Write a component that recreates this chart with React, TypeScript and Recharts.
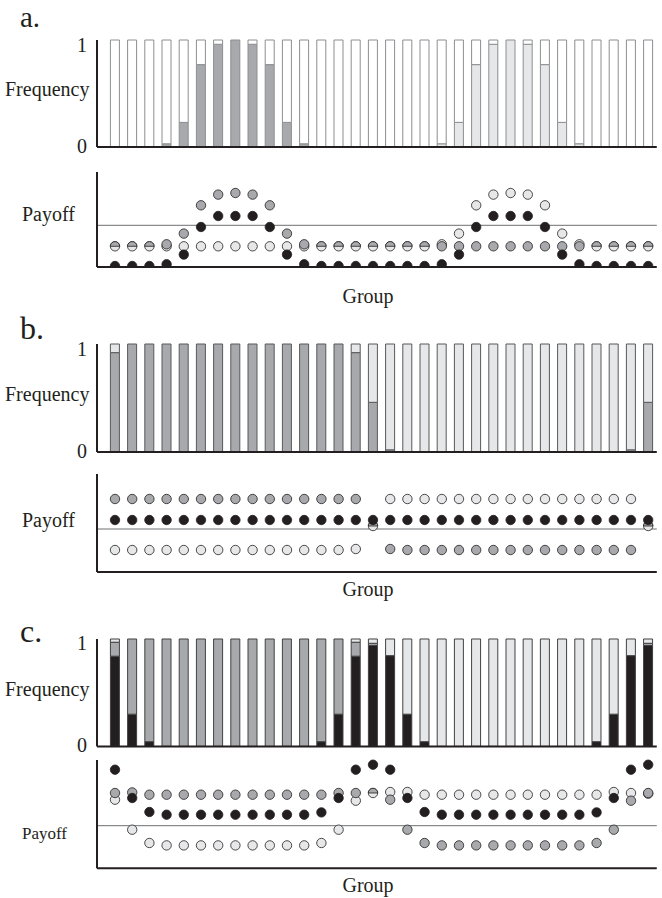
import React from "react";
import { BarChart, Bar, XAxis, YAxis, ScatterChart, Scatter, ReferenceLine } from "recharts";

const SERIF = '"Liberation Serif", "Times New Roman", Times, serif';
const INK = "#231f20";
const GRAY = "#a7a9ac";
const LIGHT = "#e6e7e8";
const WHITE = "#ffffff";
const RULE = "#6d6e71";

const W = 662;
const PLOT_LEFT = 97;
const PLOT_RIGHT = 656.8;
const PAD_LEFT = 9.4;
const DOT_R = 4.7;

const groups = [
  1, 2, 3, 4, 5, 6, 7, 8, 9, 10, 11, 12, 13, 14, 15, 16,
  17, 18, 19, 20, 21, 22, 23, 24, 25, 26, 27, 28, 29, 30, 31, 32,
];

// ---- panel a ----
const aBlack = [0, 0, 0, 0, 0, 0, 0, 0, 0, 0, 0, 0, 0, 0, 0, 0, 0, 0, 0, 0, 0, 0, 0, 0, 0, 0, 0, 0, 0, 0, 0, 0];
const aGray = [0, 0, 0, 0.03, 0.23, 0.77, 0.96, 1, 0.96, 0.77, 0.23, 0.03, 0, 0, 0, 0, 0, 0, 0, 0, 0, 0, 0, 0, 0, 0, 0, 0, 0, 0, 0, 0];
const aLight = [0, 0, 0, 0, 0, 0, 0, 0, 0, 0, 0, 0, 0, 0, 0, 0, 0, 0, 0, 0.03, 0.23, 0.77, 0.96, 1, 0.96, 0.77, 0.23, 0.03, 0, 0, 0, 0];

const aPayGray = [-2.1, -2.1, -2.1, -1.9, -0.83, 2.0, 3.07, 3.23, 3.07, 2.0, -0.83, -1.9, -2.1, -2.1, -2.1, -2.1,
  -2.1, -2.1, -2.1, -2.1, -2.1, -2.1, -2.1, -2.1, -2.1, -2.1, -2.1, -2.1, -2.1, -2.1, -2.1, -2.1];
const aPayLight = [-2.1, -2.1, -2.1, -2.1, -2.1, -2.1, -2.1, -2.1, -2.1, -2.1, -2.1, -2.1, -2.1, -2.1, -2.1, -2.1,
  -2.1, -2.1, -2.1, -1.9, -0.83, 2.0, 3.07, 3.23, 3.07, 2.0, -0.83, -1.9, -2.1, -2.1, -2.1, -2.1];
const aPayBlack = [-4.07, -4.07, -4.07, -3.9, -2.93, -0.17, 0.93, 0.93, 0.93, -0.17, -2.93, -3.9, -4.07, -4.07, -4.07, -4.07,
  -4.07, -4.07, -4.07, -3.9, -2.93, -0.17, 0.93, 0.93, 0.93, -0.17, -2.93, -3.9, -4.07, -4.07, -4.07, -4.07];

// ---- panel b ----
const bBlack = [0, 0, 0, 0, 0, 0, 0, 0, 0, 0, 0, 0, 0, 0, 0, 0, 0, 0, 0, 0, 0, 0, 0, 0, 0, 0, 0, 0, 0, 0, 0, 0];
const bGray = [0.92, 1, 1, 1, 1, 1, 1, 1, 1, 1, 1, 1, 1, 1, 0.92, 0.46, 0.02, 0, 0, 0, 0, 0, 0, 0, 0, 0, 0, 0, 0, 0, 0.02, 0.46];
const bLight = [0.08, 0, 0, 0, 0, 0, 0, 0, 0, 0, 0, 0, 0, 0, 0.08, 0.54, 0.98, 1, 1, 1, 1, 1, 1, 1, 1, 1, 1, 1, 1, 1, 0.98, 0.54];

const bPayGray = [3, 3, 3, 3, 3, 3, 3, 3, 3, 3, 3, 3, 3, 3, 3, 0.3,
  -2.0, -2.1, -2.1, -2.1, -2.1, -2.1, -2.1, -2.1, -2.1, -2.1, -2.1, -2.1, -2.1, -2.1, -2.1, 0.3];
const bPayLight = [-2.1, -2.1, -2.1, -2.1, -2.1, -2.1, -2.1, -2.1, -2.1, -2.1, -2.1, -2.1, -2.1, -2.1, -2.0, 0.3,
  3, 3, 3, 3, 3, 3, 3, 3, 3, 3, 3, 3, 3, 3, 3, 0.3];
const bPayBlack = [0.9, 0.9, 0.9, 0.9, 0.9, 0.9, 0.9, 0.9, 0.9, 0.9, 0.9, 0.9, 0.9, 0.9, 0.9, 0.9,
  0.9, 0.9, 0.9, 0.9, 0.9, 0.9, 0.9, 0.9, 0.9, 0.9, 0.9, 0.9, 0.9, 0.9, 0.9, 0.9];

// ---- panel c ----
const cBlack = [0.84, 0.3, 0.044, 0, 0, 0, 0, 0, 0, 0, 0, 0, 0.044, 0.3, 0.84, 0.94,
  0.845, 0.3, 0.044, 0, 0, 0, 0, 0, 0, 0, 0, 0, 0.044, 0.3, 0.845, 0.94];
const cGray = [0.13, 0.7, 0.956, 1, 1, 1, 1, 1, 1, 1, 1, 1, 0.956, 0.7, 0.13, 0.02,
  0, 0, 0, 0, 0, 0, 0, 0, 0, 0, 0, 0, 0, 0, 0, 0.02];
const cLight = [0.03, 0, 0, 0, 0, 0, 0, 0, 0, 0, 0, 0, 0, 0, 0.03, 0.04,
  0.155, 0.7, 0.956, 1, 1, 1, 1, 1, 1, 1, 1, 1, 0.956, 0.7, 0.155, 0.04];

const cPayBlack = [5.6, 2.77, 1.37, 1.1, 1.1, 1.1, 1.1, 1.1, 1.1, 1.1, 1.1, 1.1, 1.33, 2.77, 5.6, 6.1,
  5.6, 2.77, 1.37, 1.1, 1.1, 1.1, 1.1, 1.1, 1.1, 1.1, 1.1, 1.1, 1.33, 2.77, 5.6, 6.1];
const cPayGray = [3.27, 3.33, 3.1, 3.1, 3.1, 3.1, 3.1, 3.1, 3.1, 3.1, 3.1, 3.1, 3.1, 3.27, 3.27, 3.27,
  2.6, -0.4, -1.73, -1.97, -1.97, -1.97, -1.97, -1.97, -1.97, -1.97, -1.97, -1.97, -1.73, -0.4, 2.5, 3.27];
const cPayLight = [2.6, -0.4, -1.73, -1.97, -1.97, -1.97, -1.97, -1.97, -1.97, -1.97, -1.97, -1.97, -1.73, -0.4, 2.5, 3.27,
  3.37, 3.37, 3.1, 3.1, 3.1, 3.1, 3.1, 3.1, 3.1, 3.1, 3.1, 3.1, 3.1, 3.37, 3.27, 3.2];

const FILL: Record<string, string> = { black: INK, gray: GRAY, light: LIGHT, white: WHITE };

function stackRows(black: number[], gray: number[], light: number[]) {
  return groups.map((g, i) => ({
    g,
    black: black[i],
    gray: gray[i],
    light: light[i],
    white: Math.max(0, 1 - black[i] - gray[i] - light[i]),
  }));
}

function FreqTick(props: any) {
  const { x, y, payload } = props;
  const dy = payload.value === 1 ? 11.5 : 5.5;
  return (
    <text x={x} y={y + dy} textAnchor="end" fontFamily={SERIF} fontSize={20} fill={INK}>
      {payload.value}
    </text>
  );
}

function FrequencyPanel({ top, bottom, black, gray, light, edge }: any) {
  const data = stackRows(black, gray, light);
  const h = bottom - top + 20;
  return (
    <div style={{ position: "absolute", left: 0, top: top - 10, width: W, height: h }}>
      <BarChart
        width={W}
        height={h}
        data={data}
        barSize={9}
        margin={{ top: 10, right: W - PLOT_RIGHT, bottom: 0, left: 0 }}
      >
        <XAxis
          dataKey="g"
          height={10}
          tick={false}
          tickLine={false}
          axisLine={{ stroke: INK, strokeWidth: 2 }}
          padding={{ left: PAD_LEFT, right: 0 }}
        />
        <YAxis
          width={PLOT_LEFT}
          domain={[0, 1]}
          ticks={[0, 1]}
          tickLine={false}
          tickMargin={4}
          axisLine={{ stroke: INK, strokeWidth: 2 }}
          tick={FreqTick}
        />
        {["black", "gray", "light", "white"].map((k) => (
          <Bar
            key={k}
            dataKey={k}
            stackId="f"
            fill={FILL[k]}
            stroke={edge}
            strokeWidth={1}
            isAnimationActive={false}
          />
        ))}
      </BarChart>
    </div>
  );
}

function makeDot(fill: string) {
  return (props: any) => {
    const { cx, cy, payload } = props;
    if (cx == null || cy == null) return <g />;
    // gray and light on the same payoff: draw the gray as the upper half
    if (payload.mate != null && Math.abs(payload.mate - payload.v) < 0.05) {
      return (
        <path
          d={`M${cx - DOT_R},${cy} A${DOT_R},${DOT_R} 0 0 1 ${cx + DOT_R},${cy} Z`}
          fill={fill}
          stroke={INK}
          strokeWidth={0.8}
        />
      );
    }
    return <circle cx={cx} cy={cy} r={DOT_R} fill={fill} stroke={INK} strokeWidth={0.8} />;
  };
}

function PayoffPanel({ top, bottom, domain, black, gray, light, clip }: any) {
  const h = bottom - top + 20;
  const lightData = groups.map((g, i) => ({ g, v: light[i] }));
  const grayData = groups.map((g, i) => ({ g, v: gray[i], mate: light[i] }));
  const blackData = groups.map((g, i) => ({ g, v: black[i] }));
  return (
    <div style={{ position: "absolute", left: 0, top: top - 10, width: W, height: h }}>
      <ScatterChart width={W} height={h} margin={{ top: 10, right: W - PLOT_RIGHT, bottom: 0, left: 0 }}>
        <XAxis
          type="number"
          dataKey="g"
          domain={[0.5, 32.5]}
          height={10}
          tick={false}
          tickLine={false}
          axisLine={{ stroke: INK, strokeWidth: 2 }}
          padding={{ left: PAD_LEFT, right: 0 }}
        />
        <YAxis
          type="number"
          dataKey="v"
          domain={domain}
          allowDataOverflow={clip}
          width={PLOT_LEFT}
          tick={false}
          tickLine={false}
          axisLine={{ stroke: INK, strokeWidth: 2 }}
        />
        <ReferenceLine y={0} stroke={RULE} strokeWidth={1} />
        <Scatter data={lightData} fill={LIGHT} shape={makeDot(LIGHT)} isAnimationActive={false} />
        <Scatter data={grayData} fill={GRAY} shape={makeDot(GRAY)} isAnimationActive={false} />
        <Scatter data={blackData} fill={INK} shape={makeDot(INK)} isAnimationActive={false} />
      </ScatterChart>
    </div>
  );
}

const textStyle = { fontFamily: SERIF, fill: INK };

export default function App() {
  return (
    <div style={{ position: "absolute", left: 0, top: 0, width: W, height: 898, background: "#fff" }}>
      <FrequencyPanel top={40} bottom={147} black={aBlack} gray={aGray} light={aLight} edge="#8d8e91" />
      <PayoffPanel top={171.7} bottom={266.7} domain={[-4.17, 5.33]} black={aPayBlack} gray={aPayGray} light={aPayLight} clip />

      <FrequencyPanel top={344} bottom={452} black={bBlack} gray={bGray} light={bLight} edge="#58595b" />
      <PayoffPanel top={474} bottom={572} domain={[-4.3, 5.5]} black={bPayBlack} gray={bPayGray} light={bPayLight} clip={false} />

      <FrequencyPanel top={639.3} bottom={746.7} black={cBlack} gray={cGray} light={cLight} edge="#414042" />
      <PayoffPanel top={760} bottom={868.3} domain={[-4.26, 6.57]} black={cPayBlack} gray={cPayGray} light={cPayLight} clip={false} />

      <svg width={W} height={898} style={{ position: "absolute", left: 0, top: 0, pointerEvents: "none" }}>
        <text x={20} y={27} fontSize={29} {...textStyle}>a.</text>
        <text x={5} y={96} fontSize={20} {...textStyle}>Frequency</text>
        <text x={22} y={221} fontSize={20} {...textStyle}>Payoff</text>
        <text x={368} y={303} fontSize={20} textAnchor="middle" {...textStyle}>Group</text>

        <text x={20} y={339} fontSize={32} {...textStyle}>b.</text>
        <text x={5} y={401} fontSize={20} {...textStyle}>Frequency</text>
        <text x={22} y={527} fontSize={20} {...textStyle}>Payoff</text>
        <text x={368} y={596} fontSize={20} textAnchor="middle" {...textStyle}>Group</text>

        <text x={20} y={642} fontSize={32} {...textStyle}>c.</text>
        <text x={5} y={696} fontSize={20} {...textStyle}>Frequency</text>
        <text x={22} y={839} fontSize={17} {...textStyle}>Payoff</text>
        <text x={368} y={892} fontSize={20} textAnchor="middle" {...textStyle}>Group</text>
      </svg>
    </div>
  );
}
